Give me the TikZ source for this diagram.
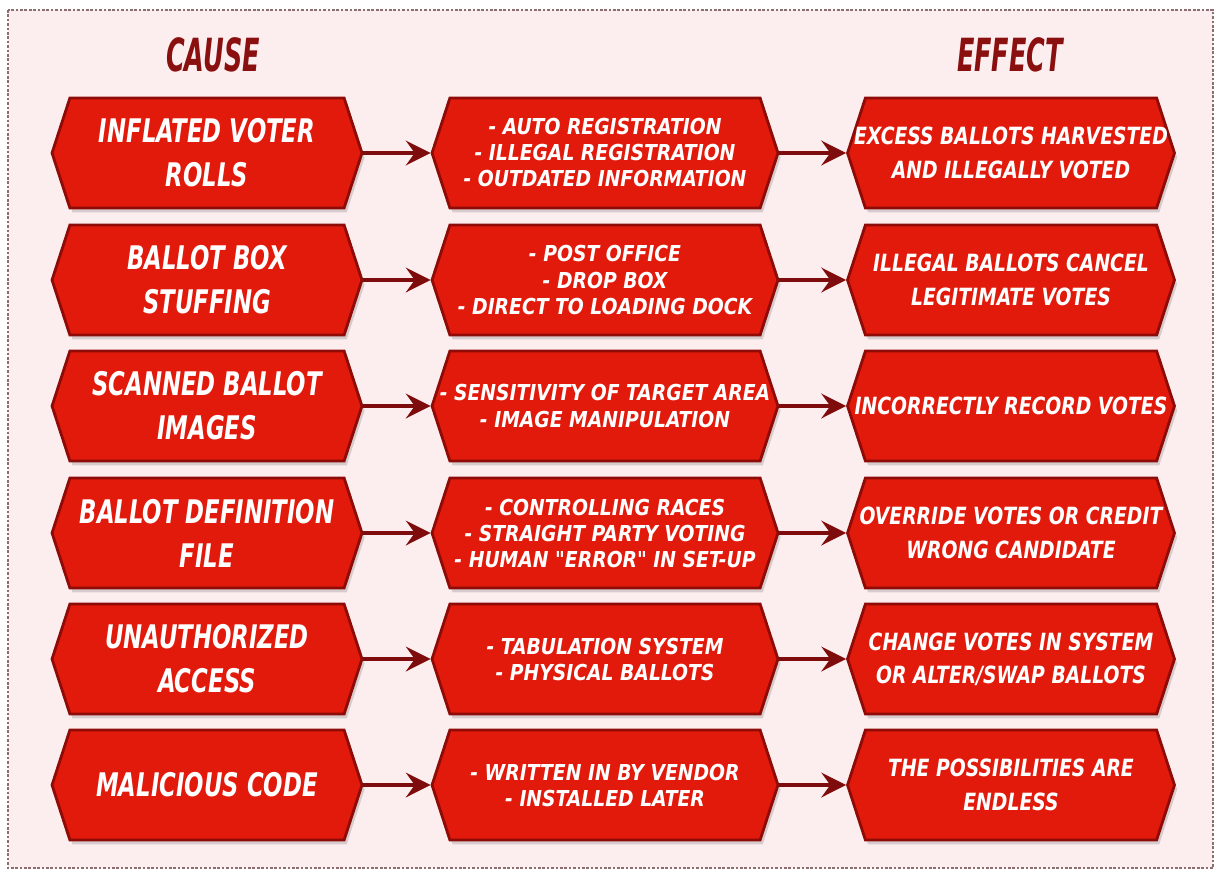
\documentclass[tikz,border=0pt]{standalone}
\usepackage{fontspec}
\usetikzlibrary{shapes.symbols,arrows.meta,shadows}
\newfontfamily\comicfont{DejaVu Sans Condensed Bold Oblique}[FakeStretch=0.78]
\newfontfamily\effectfont{DejaVu Sans Condensed Bold Oblique}[FakeStretch=0.88]
\newfontfamily\howfont{DejaVu Sans Condensed Bold Oblique}[FakeStretch=0.95]
\newfontfamily\headfont{DejaVu Sans Condensed Bold Oblique}[FakeStretch=0.62]
\definecolor{boxred}{HTML}{E11A0C}
\definecolor{edgered}{HTML}{8E0B07}
\definecolor{arrowred}{HTML}{7E0C0C}
\definecolor{headred}{HTML}{8A1010}
\definecolor{bgpink}{HTML}{FCEEEF}
\definecolor{dotgray}{HTML}{8C6E70}
\begin{document}
\begin{tikzpicture}[x=0.02cm,y=-0.02cm,
    hexbox/.style={signal, signal to=east and west, signal pointer angle=144,
        draw=edgered, line width=1.6pt, fill=boxred, text=white, align=center,
        inner ysep=2pt, inner xsep=-12pt, minimum height=2.2cm,
        drop shadow={shadow xshift=1.5pt, shadow yshift=-2.5pt, opacity=0.3}},
    causebox/.style={hexbox, minimum width=6.2cm, font=\comicfont\fontsize{18.5}{25}\selectfont},
    howbox/.style={hexbox, minimum width=6.92cm, font=\howfont\fontsize{12.5}{14.8}\selectfont},
    effectbox/.style={hexbox, minimum width=6.54cm, font=\effectfont\fontsize{13.5}{19}\selectfont},
    headtext/.style={text=headred, font=\headfont\fontsize{26}{30}\selectfont},
    link/.style={draw=arrowred, line width=2.6pt, -{Stealth[length=14pt, width=14pt, inset=5pt]}}]

    \fill[white] (0,0) rectangle (1222,875);
    \useasboundingbox (0,0) rectangle (1222,875);
    \fill[bgpink] (8,10) rectangle (1213,868);
    \draw[dotgray, line width=1.5pt, densely dotted] (8,10) rectangle (1213,868);

    \node[headtext] (causehead) at (213,55) {CAUSE};
    \node[headtext] (effecthead) at (1010,55) {EFFECT};

    \node[causebox] (cause1) at (207,153) {INFLATED VOTER\\ROLLS};
    \node[howbox] (how1) at (605,153) {- AUTO REGISTRATION\\- ILLEGAL REGISTRATION\\- OUTDATED INFORMATION};
    \node[effectbox] (effect1) at (1011,153) {EXCESS BALLOTS HARVESTED\\AND ILLEGALLY VOTED};

    \node[causebox] (cause2) at (207,280) {BALLOT BOX\\STUFFING};
    \node[howbox] (how2) at (605,280) {- POST OFFICE\\- DROP BOX\\- DIRECT TO LOADING DOCK};
    \node[effectbox] (effect2) at (1011,280) {ILLEGAL BALLOTS CANCEL\\LEGITIMATE VOTES};

    \node[causebox] (cause3) at (207,406) {SCANNED BALLOT\\IMAGES};
    \node[howbox] (how3) at (605,406) {- SENSITIVITY OF TARGET AREA\\- IMAGE MANIPULATION};
    \node[effectbox] (effect3) at (1011,406) {INCORRECTLY RECORD VOTES};

    \node[causebox] (cause4) at (207,533) {BALLOT DEFINITION\\FILE};
    \node[howbox] (how4) at (605,533) {- CONTROLLING RACES\\- STRAIGHT PARTY VOTING\\- HUMAN "ERROR" IN SET-UP};
    \node[effectbox] (effect4) at (1011,533) {OVERRIDE VOTES OR CREDIT\\WRONG CANDIDATE};

    \node[causebox] (cause5) at (207,659) {UNAUTHORIZED\\ACCESS};
    \node[howbox] (how5) at (605,659) {- TABULATION SYSTEM\\- PHYSICAL BALLOTS};
    \node[effectbox] (effect5) at (1011,659) {CHANGE VOTES IN SYSTEM\\OR ALTER/SWAP BALLOTS};

    \node[causebox] (cause6) at (207,785) {MALICIOUS CODE};
    \node[howbox] (how6) at (605,785) {- WRITTEN IN BY VENDOR\\- INSTALLED LATER};
    \node[effectbox] (effect6) at (1011,785) {THE POSSIBILITIES ARE\\ENDLESS};

    \draw[link] (cause1.east) -- (how1.west);
    \draw[link] (how1.east) -- (effect1.west);
    \draw[link] (cause2.east) -- (how2.west);
    \draw[link] (how2.east) -- (effect2.west);
    \draw[link] (cause3.east) -- (how3.west);
    \draw[link] (how3.east) -- (effect3.west);
    \draw[link] (cause4.east) -- (how4.west);
    \draw[link] (how4.east) -- (effect4.west);
    \draw[link] (cause5.east) -- (how5.west);
    \draw[link] (how5.east) -- (effect5.west);
    \draw[link] (cause6.east) -- (how6.west);
    \draw[link] (how6.east) -- (effect6.west);
\end{tikzpicture}
\end{document}
